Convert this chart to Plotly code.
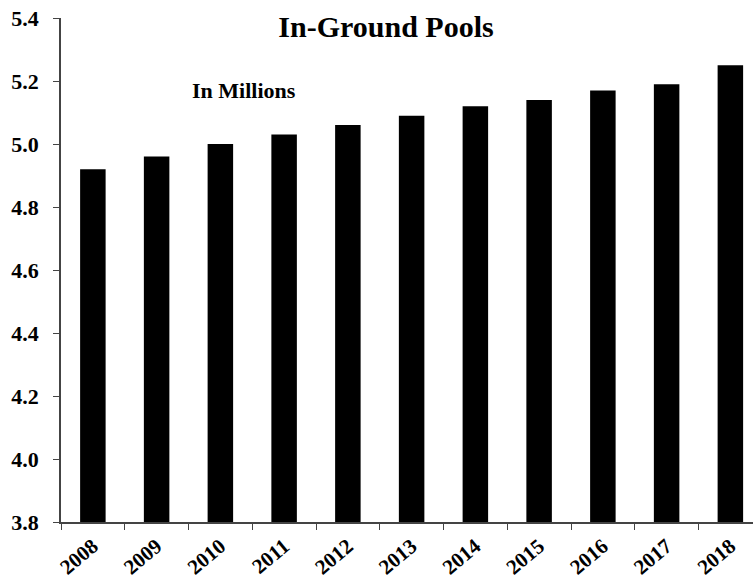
import plotly.graph_objects as go

years = ["2008", "2009", "2010", "2011", "2012", "2013", "2014", "2015", "2016", "2017", "2018"]
pools = [4.92, 4.96, 5.00, 5.03, 5.06, 5.09, 5.12, 5.14, 5.17, 5.19, 5.25]
y_ticks = [3.8, 4.0, 4.2, 4.4, 4.6, 4.8, 5.0, 5.2, 5.4]

SERIF = "Liberation Serif, Times New Roman, serif"

fig = go.Figure(go.Bar(x=years, y=pools, marker=dict(color="black", line=dict(width=0)), width=0.4))

fig.update_layout(
    width=753, height=586,
    margin=dict(l=61, r=0, t=18, b=64, autoexpand=False),
    plot_bgcolor="white", paper_bgcolor="white",
    showlegend=False,
    font=dict(family=SERIF, color="black"),
    title=dict(text="<b>In-Ground Pools</b>", x=386 / 753, xanchor="center", y=1 - 26 / 586, yanchor="middle",
               font=dict(family=SERIF, size=30, color="black")),
    annotations=[dict(text="<b>In Millions</b>", xref="paper", x=199 / 753, xanchor="center",
                      yref="paper", y=1 - 84 / 586, yanchor="middle",
                      showarrow=False, font=dict(family=SERIF, size=22, color="black"))],
)

fig.update_xaxes(
    type="category", range=[-0.5, 10.355], automargin=False,
    showline=True, linecolor="#444", linewidth=1.5,
    ticks="outside", tickson="boundaries", ticklen=6, tickcolor="#444",
    tickangle=-40, tickfont=dict(family=SERIF, size=21, color="black"),
    tickvals=years, ticktext=[f"<b>{y}</b>" for y in years], ticklabelstandoff=2,
    showgrid=False,
)
fig.update_yaxes(
    range=[3.8, 5.4], automargin=False,
    tickvals=y_ticks, ticktext=[f"<b>{v:.1f}</b>" for v in y_ticks],
    showline=True, linecolor="#444", linewidth=1.5,
    ticks="outside", ticklen=6, tickcolor="#444", ticklabelstandoff=10,
    tickfont=dict(family=SERIF, size=22, color="black"),
    showgrid=False, zeroline=False,
)

fig.write_html("out.html", config={"displayModeBar": False},
               post_script="document.body.style.margin='0';document.body.style.overflow='hidden';")
